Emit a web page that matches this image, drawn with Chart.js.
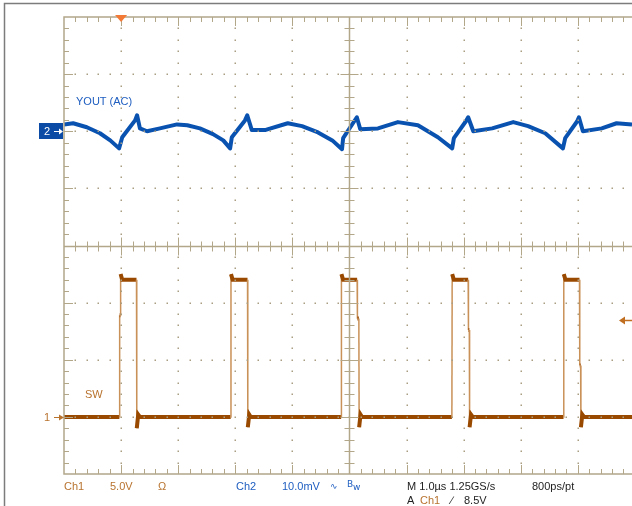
<!DOCTYPE html>
<html>
<head>
<meta charset="utf-8">
<script src="https://cdn.jsdelivr.net/npm/chart.js@4.4.0/dist/chart.umd.min.js"></script>
<style>
  html, body { margin: 0; padding: 0; background: #fff; overflow: hidden; }
  #wrap { width: 632px; height: 506px; }
</style>
</head>
<body>
<div id="wrap"><canvas id="scope" width="632" height="506"></canvas></div>
<script>
// time in µs (trigger at 0), 1 µs/div
const voutTime = [-1.00, -0.84, -0.60, -0.37, -0.19, -0.035, 0.02, 0.245, 0.28, 0.33, 0.455, 0.68, 0.98, 1.16, 1.38, 1.61, 1.79, 1.91,
  1.94, 2.17, 2.21, 2.29, 2.52, 2.92, 3.17, 3.45, 3.70, 3.87, 3.89, 4.13, 4.19, 4.50, 4.85, 5.20, 5.55, 5.80,
  5.83, 6.04, 6.08, 6.17, 6.50, 6.87, 7.13, 7.43, 7.74, 7.78, 7.99, 8.02, 8.09, 8.42, 8.68, 8.95];
// Ch2, VOUT AC coupled, mV
const voutMv = [1.2, 1.4, 0.7, -0.35, -1.6, -3.0, -1.05, 1.9, 2.8, 0.5, 0.0, 0.5, 1.2, 1.05, 0.5, -0.5, -1.6, -3.0,
  -1.05, 1.9, 2.8, 0.2, 0.2, 1.4, 0.9, -0.2, -1.6, -3.15, -1.2, 2.45, 0.35, 0.5, 1.6, 1.05, -1.05, -3.0,
  -1.2, 1.75, 2.45, 0.0, 0.5, 1.6, 0.9, -0.35, -3.0, -1.2, 1.75, 2.45, 0.0, 0.5, 1.4, 1.2];

const swTime = [-1.00, -0.03, -0.025, -0.012, -0.008, 0.02, 0.27, 0.275, 0.30, 0.33,
  1.92, 1.925, 1.955, 2.215, 2.22, 2.245, 2.27,
  3.855, 3.86, 3.89, 4.135, 4.14, 4.165, 4.17, 4.195, 4.22,
  5.795, 5.80, 5.83, 6.08, 6.085, 6.10, 6.105, 6.13, 6.16,
  7.75, 7.755, 7.785, 8.03, 8.035, 8.05, 8.055, 8.08, 8.11, 8.95];
// Ch1, SW node, V
const swVolts = [0.0, 0.0, 8.9, 8.9, 12.5, 12.0, 12.0, -1.0, 0.2, 0.0,
  0.0, 12.5, 12.0, 12.0, -0.9, 0.2, 0.0,
  0.0, 12.5, 12.0, 12.0, 8.6, 8.6, -0.9, 0.2, 0.0,
  0.0, 12.5, 12.0, 12.0, 7.6, 7.6, -0.9, 0.2, 0.0,
  0.0, 12.5, 12.0, 12.0, 4.5, 4.5, -0.9, 0.2, 0.0, 0.0];

// channel settings
const ch1 = { voltsPerDiv: 5.0, ground: -3, trigger: 8.5 };
const ch2 = { mvPerDiv: 10.0, ground: 2 };

const ORANGE = '#9a4a00';
const ORANGE_EDGE = '#c99158';
const ORANGE_TXT = '#b8732f';
const BLUE = '#0a52b0';
const BLUE_TXT = '#1f5ec0';
const GRID = '#b3a78a';
const FONT = '11px "Liberation Sans", Arial, sans-serif';

const graticule = {
  id: 'graticule',
  afterDatasetsDraw(chart) {
    const { ctx, chartArea: a, scales: { x, y } } = chart;
    ctx.save();
    ctx.fillStyle = '#a99e82';
    // dotted division lines
    for (let t = 0; t <= 8; t++) {
      if (t === 4) continue;
      const px = Math.round(x.getPixelForValue(t));
      for (let k = 1; k < 40; k++) {
        if (k % 5 === 0) continue;
        const py = Math.round(y.getPixelForValue(-4 + k * 0.2));
        ctx.fillRect(px - 0.5, py - 0.5, 1.5, 1.5);
      }
    }
    for (let d = -3; d <= 3; d++) {
      if (d === 0) continue;
      const py = Math.round(y.getPixelForValue(d));
      for (let k = 1; k < 50; k++) {
        const px = Math.round(x.getPixelForValue(-1 + k * 0.2));
        if (px >= a.right) break;
        ctx.fillRect(px - 0.5, py - 0.5, 1.5, 1.5);
      }
    }

    ctx.strokeStyle = GRID;
    ctx.lineWidth = 1.5;
    // frame
    ctx.beginPath();
    ctx.moveTo(a.right + 2, a.top); ctx.lineTo(a.left, a.top);
    ctx.lineTo(a.left, a.bottom); ctx.lineTo(a.right + 2, a.bottom);
    ctx.stroke();
    // center lines
    const cx = Math.round(x.getPixelForValue(4)) + 0.5;
    const cy = Math.round(y.getPixelForValue(0)) + 0.5;
    ctx.beginPath();
    ctx.moveTo(a.left, cy); ctx.lineTo(a.right, cy);
    ctx.moveTo(cx, a.top); ctx.lineTo(cx, a.bottom);
    ctx.stroke();

    // ticks on horizontal edges and center
    ctx.lineWidth = 1;
    ctx.beginPath();
    for (let k = 1; k < 50; k++) {
      const px = Math.round(x.getPixelForValue(-1 + k * 0.2)) + 0.5;
      if (px >= a.right) break;
      const major = k % 5 === 0;
      const len = major ? 9 : 5;
      ctx.moveTo(px, a.top); ctx.lineTo(px, a.top + len);
      ctx.moveTo(px, a.bottom); ctx.lineTo(px, a.bottom - len);
      ctx.moveTo(px, cy - len); ctx.lineTo(px, cy + len);
    }
    for (let k = 1; k < 40; k++) {
      const py = Math.round(y.getPixelForValue(-4 + k * 0.2)) + 0.5;
      const major = k % 5 === 0;
      const len = major ? 9 : 5;
      ctx.moveTo(a.left, py); ctx.lineTo(a.left + len, py);
      ctx.moveTo(cx - len, py); ctx.lineTo(cx + len, py);
    }
    ctx.stroke();
    ctx.restore();
  },
  afterDraw(chart) {
    const { ctx, chartArea: a, scales: { x, y } } = chart;
    ctx.save();
    // outer window edge
    ctx.strokeStyle = '#7c7c7c';
    ctx.lineWidth = 1.5;
    ctx.beginPath();
    ctx.moveTo(632, 3.5); ctx.lineTo(4.5, 3.5); ctx.lineTo(4.5, 506);
    ctx.stroke();

    // trigger position marker
    const tx = x.getPixelForValue(0);
    ctx.fillStyle = '#f27a36';
    ctx.beginPath();
    ctx.moveTo(tx - 6, a.top - 2); ctx.lineTo(tx + 6, a.top - 2); ctx.lineTo(tx, a.top + 5);
    ctx.closePath(); ctx.fill();

    // trigger level marker (right)
    const ty = Math.round(y.getPixelForValue(ch1.ground + ch1.trigger / ch1.voltsPerDiv)) + 0.5;
    ctx.strokeStyle = '#c06e20'; ctx.fillStyle = '#c06e20'; ctx.lineWidth = 1.5;
    ctx.beginPath(); ctx.moveTo(624, ty); ctx.lineTo(632, ty); ctx.stroke();
    ctx.beginPath(); ctx.moveTo(619, ty); ctx.lineTo(625, ty - 4); ctx.lineTo(625, ty + 4); ctx.closePath(); ctx.fill();

    // channel ground markers
    const g2 = Math.round(y.getPixelForValue(ch2.ground));
    ctx.fillStyle = '#0b4aa5';
    ctx.fillRect(39, g2 - 8, 24, 16);
    ctx.font = FONT;
    ctx.textBaseline = 'middle';
    ctx.fillStyle = '#fff';
    ctx.fillText('2', 44, g2 + 1);
    ctx.strokeStyle = '#fff'; ctx.lineWidth = 1;
    ctx.beginPath(); ctx.moveTo(54, g2 + 0.5); ctx.lineTo(61, g2 + 0.5); ctx.stroke();
    ctx.fillStyle = '#fff';
    ctx.beginPath(); ctx.moveTo(63, g2 + 0.5); ctx.lineTo(59, g2 - 2.5); ctx.lineTo(59, g2 + 3.5); ctx.closePath(); ctx.fill();

    const g1 = Math.round(y.getPixelForValue(ch1.ground));
    ctx.fillStyle = ORANGE_TXT;
    ctx.fillText('1', 44, g1 + 1);
    ctx.strokeStyle = ORANGE_TXT;
    ctx.beginPath(); ctx.moveTo(54, g1 + 0.5); ctx.lineTo(61, g1 + 0.5); ctx.stroke();
    ctx.beginPath(); ctx.moveTo(64, g1 + 0.5); ctx.lineTo(59, g1 - 2.5); ctx.lineTo(59, g1 + 3.5); ctx.closePath(); ctx.fill();

    // trace labels
    ctx.textBaseline = 'alphabetic';
    ctx.fillStyle = BLUE_TXT;
    ctx.fillText('YOUT (AC)', 76, 105);
    ctx.fillStyle = ORANGE_TXT;
    ctx.fillText('SW', 85, 398);

    // status line
    const row1 = 490, row2 = 504;
    ctx.fillStyle = ORANGE_TXT;
    ctx.fillText('Ch1', 64, row1);
    ctx.fillText(ch1.voltsPerDiv.toFixed(1) + 'V', 110, row1);
    ctx.fillText('\u03A9', 158, row1);
    ctx.fillStyle = BLUE_TXT;
    ctx.fillText('Ch2', 236, row1);
    ctx.fillText(ch2.mvPerDiv.toFixed(1) + 'mV', 282, row1);
    ctx.font = '9px "DejaVu Sans", sans-serif';
    ctx.fillText('\u223F', 330, row1 - 1);
    ctx.fillText('B', 347, row1 - 3);
    ctx.fillText('w', 353, row1);
    ctx.font = FONT;
    ctx.fillStyle = '#1e1e1e';
    ctx.fillText('M 1.0\u00B5s 1.25GS/s', 407, row1);
    ctx.fillText('800ps/pt', 532, row1);
    ctx.fillText('A', 407, row2);
    ctx.fillStyle = ORANGE_TXT;
    ctx.fillText('Ch1', 420, row2);
    ctx.fillStyle = '#1e1e1e';
    ctx.fillText('\u2215', 451, row2);
    ctx.fillText(ch1.trigger.toFixed(1) + 'V', 464, row2);
    ctx.restore();
  }
};

const ch2Points = voutTime.map((t, i) => ({ x: t, y: ch2.ground + voutMv[i] / ch2.mvPerDiv }));
const ch1Points = swTime.map((t, i) => ({ x: t, y: ch1.ground + swVolts[i] / ch1.voltsPerDiv }));

const isEdge = c => Math.abs(c.p1.parsed.y - c.p0.parsed.y) > 0.5;

new Chart(document.getElementById('scope'), {
  type: 'scatter',
  data: {
    datasets: [
      {
        label: 'YOUT (AC)',
        data: ch2Points,
        showLine: true,
        borderColor: BLUE,
        borderWidth: 4,
        borderJoinStyle: 'round',
        pointRadius: 0,
        tension: 0
      },
      {
        label: 'SW',
        data: ch1Points,
        showLine: true,
        borderColor: ORANGE,
        borderWidth: 4,
        pointRadius: 0,
        segment: {
          borderColor: c => isEdge(c) ? ORANGE_EDGE : ORANGE,
          borderWidth: c => isEdge(c) ? 1.5 : 4
        }
      }
    ]
  },
  options: {
    responsive: false,
    animation: false,
    devicePixelRatio: 1,
    layout: { padding: { left: 64, top: 17, right: 0, bottom: 32 } },
    plugins: {
      legend: { display: false },
      tooltip: { enabled: false }
    },
    scales: {
      x: { type: 'linear', min: -1, max: 8.95, display: false },
      y: { type: 'linear', min: -4, max: 4, display: false }
    }
  },
  plugins: [graticule]
});
</script>
</body>
</html>
